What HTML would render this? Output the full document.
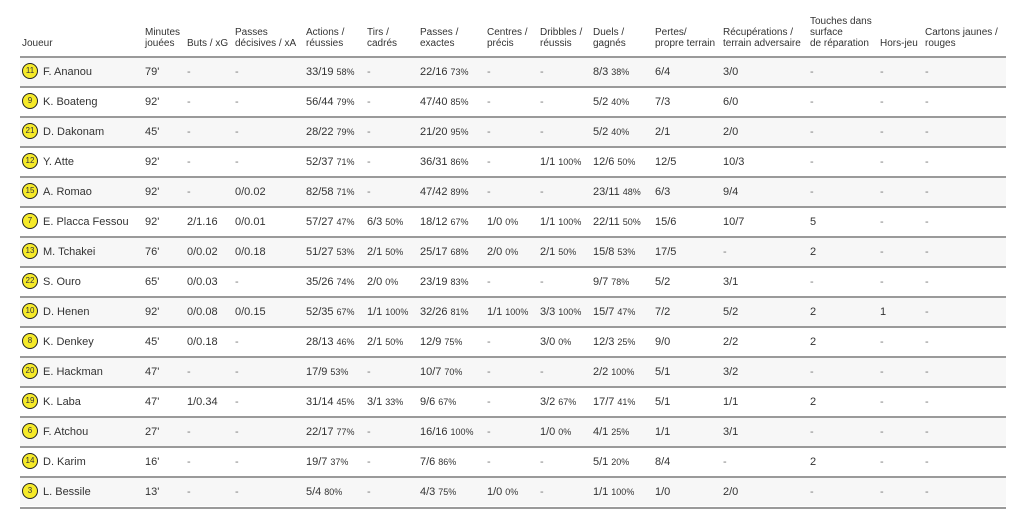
<!DOCTYPE html>
<html><head><meta charset="utf-8"><style>
body{margin:0;width:1024px;height:525px;background:#fff;font-family:"Liberation Sans",Arial,sans-serif;color:#333;position:relative;overflow:hidden}
.h{position:absolute;font-size:10px;line-height:11px;color:#333;white-space:nowrap}
.r{position:absolute;left:20px;width:986px;height:28px;border-top:2px solid #9a9a9a;font-size:11px}
.r.g{background:#f7f7f7}
.r span{position:absolute;top:8px;white-space:nowrap}
.r small{font-size:9px;margin-left:3px}
.d{color:#777}
.n{position:absolute;left:2px;top:6px;width:14px;height:14px;border:1px solid #222;border-radius:50%;background:#f5ea2a;font-size:8px;line-height:14px;text-align:center;top:5px}
.bot{position:absolute;left:20px;top:507px;width:986px;border-top:2px solid #9a9a9a}
</style></head><body>
<div class="h" style="left:22px;top:38px">Joueur</div>
<div class="h" style="left:145px;top:27px">Minutes<br>jouées</div>
<div class="h" style="left:187px;top:38px">Buts / xG</div>
<div class="h" style="left:235px;top:27px">Passes<br>décisives / xA</div>
<div class="h" style="left:306px;top:27px">Actions /<br>réussies</div>
<div class="h" style="left:367px;top:27px">Tirs /<br>cadrés</div>
<div class="h" style="left:420px;top:27px">Passes /<br>exactes</div>
<div class="h" style="left:487px;top:27px">Centres /<br>précis</div>
<div class="h" style="left:540px;top:27px">Dribbles /<br>réussis</div>
<div class="h" style="left:593px;top:27px">Duels /<br>gagnés</div>
<div class="h" style="left:655px;top:27px">Pertes/<br>propre terrain</div>
<div class="h" style="left:723px;top:27px">Récupérations /<br>terrain adversaire</div>
<div class="h" style="left:810px;top:16px">Touches dans<br>surface<br>de réparation</div>
<div class="h" style="left:880px;top:38px">Hors-jeu</div>
<div class="h" style="left:925px;top:27px">Cartons jaunes /<br>rouges</div>

<div class="r g" style="top:56px"><div class="n">11</div><span style="left:23px">F. Ananou</span><span style="left:125px">79'</span><span class="d" style="left:167px">-</span><span class="d" style="left:215px">-</span><span style="left:286px">33/19<small>58%</small></span><span class="d" style="left:347px">-</span><span style="left:400px">22/16<small>73%</small></span><span class="d" style="left:467px">-</span><span class="d" style="left:520px">-</span><span style="left:573px">8/3<small>38%</small></span><span style="left:635px">6/4</span><span style="left:703px">3/0</span><span class="d" style="left:790px">-</span><span class="d" style="left:860px">-</span><span class="d" style="left:905px">-</span></div>
<div class="r" style="top:86px"><div class="n">9</div><span style="left:23px">K. Boateng</span><span style="left:125px">92'</span><span class="d" style="left:167px">-</span><span class="d" style="left:215px">-</span><span style="left:286px">56/44<small>79%</small></span><span class="d" style="left:347px">-</span><span style="left:400px">47/40<small>85%</small></span><span class="d" style="left:467px">-</span><span class="d" style="left:520px">-</span><span style="left:573px">5/2<small>40%</small></span><span style="left:635px">7/3</span><span style="left:703px">6/0</span><span class="d" style="left:790px">-</span><span class="d" style="left:860px">-</span><span class="d" style="left:905px">-</span></div>
<div class="r g" style="top:116px"><div class="n">21</div><span style="left:23px">D. Dakonam</span><span style="left:125px">45'</span><span class="d" style="left:167px">-</span><span class="d" style="left:215px">-</span><span style="left:286px">28/22<small>79%</small></span><span class="d" style="left:347px">-</span><span style="left:400px">21/20<small>95%</small></span><span class="d" style="left:467px">-</span><span class="d" style="left:520px">-</span><span style="left:573px">5/2<small>40%</small></span><span style="left:635px">2/1</span><span style="left:703px">2/0</span><span class="d" style="left:790px">-</span><span class="d" style="left:860px">-</span><span class="d" style="left:905px">-</span></div>
<div class="r" style="top:146px"><div class="n">12</div><span style="left:23px">Y. Atte</span><span style="left:125px">92'</span><span class="d" style="left:167px">-</span><span class="d" style="left:215px">-</span><span style="left:286px">52/37<small>71%</small></span><span class="d" style="left:347px">-</span><span style="left:400px">36/31<small>86%</small></span><span class="d" style="left:467px">-</span><span style="left:520px">1/1<small>100%</small></span><span style="left:573px">12/6<small>50%</small></span><span style="left:635px">12/5</span><span style="left:703px">10/3</span><span class="d" style="left:790px">-</span><span class="d" style="left:860px">-</span><span class="d" style="left:905px">-</span></div>
<div class="r g" style="top:176px"><div class="n">15</div><span style="left:23px">A. Romao</span><span style="left:125px">92'</span><span class="d" style="left:167px">-</span><span style="left:215px">0/0.02</span><span style="left:286px">82/58<small>71%</small></span><span class="d" style="left:347px">-</span><span style="left:400px">47/42<small>89%</small></span><span class="d" style="left:467px">-</span><span class="d" style="left:520px">-</span><span style="left:573px">23/11<small>48%</small></span><span style="left:635px">6/3</span><span style="left:703px">9/4</span><span class="d" style="left:790px">-</span><span class="d" style="left:860px">-</span><span class="d" style="left:905px">-</span></div>
<div class="r" style="top:206px"><div class="n">7</div><span style="left:23px">E. Placca Fessou</span><span style="left:125px">92'</span><span style="left:167px">2/1.16</span><span style="left:215px">0/0.01</span><span style="left:286px">57/27<small>47%</small></span><span style="left:347px">6/3<small>50%</small></span><span style="left:400px">18/12<small>67%</small></span><span style="left:467px">1/0<small>0%</small></span><span style="left:520px">1/1<small>100%</small></span><span style="left:573px">22/11<small>50%</small></span><span style="left:635px">15/6</span><span style="left:703px">10/7</span><span style="left:790px">5</span><span class="d" style="left:860px">-</span><span class="d" style="left:905px">-</span></div>
<div class="r g" style="top:236px"><div class="n">13</div><span style="left:23px">M. Tchakei</span><span style="left:125px">76'</span><span style="left:167px">0/0.02</span><span style="left:215px">0/0.18</span><span style="left:286px">51/27<small>53%</small></span><span style="left:347px">2/1<small>50%</small></span><span style="left:400px">25/17<small>68%</small></span><span style="left:467px">2/0<small>0%</small></span><span style="left:520px">2/1<small>50%</small></span><span style="left:573px">15/8<small>53%</small></span><span style="left:635px">17/5</span><span class="d" style="left:703px">-</span><span style="left:790px">2</span><span class="d" style="left:860px">-</span><span class="d" style="left:905px">-</span></div>
<div class="r" style="top:266px"><div class="n">22</div><span style="left:23px">S. Ouro</span><span style="left:125px">65'</span><span style="left:167px">0/0.03</span><span class="d" style="left:215px">-</span><span style="left:286px">35/26<small>74%</small></span><span style="left:347px">2/0<small>0%</small></span><span style="left:400px">23/19<small>83%</small></span><span class="d" style="left:467px">-</span><span class="d" style="left:520px">-</span><span style="left:573px">9/7<small>78%</small></span><span style="left:635px">5/2</span><span style="left:703px">3/1</span><span class="d" style="left:790px">-</span><span class="d" style="left:860px">-</span><span class="d" style="left:905px">-</span></div>
<div class="r g" style="top:296px"><div class="n">10</div><span style="left:23px">D. Henen</span><span style="left:125px">92'</span><span style="left:167px">0/0.08</span><span style="left:215px">0/0.15</span><span style="left:286px">52/35<small>67%</small></span><span style="left:347px">1/1<small>100%</small></span><span style="left:400px">32/26<small>81%</small></span><span style="left:467px">1/1<small>100%</small></span><span style="left:520px">3/3<small>100%</small></span><span style="left:573px">15/7<small>47%</small></span><span style="left:635px">7/2</span><span style="left:703px">5/2</span><span style="left:790px">2</span><span style="left:860px">1</span><span class="d" style="left:905px">-</span></div>
<div class="r" style="top:326px"><div class="n">8</div><span style="left:23px">K. Denkey</span><span style="left:125px">45'</span><span style="left:167px">0/0.18</span><span class="d" style="left:215px">-</span><span style="left:286px">28/13<small>46%</small></span><span style="left:347px">2/1<small>50%</small></span><span style="left:400px">12/9<small>75%</small></span><span class="d" style="left:467px">-</span><span style="left:520px">3/0<small>0%</small></span><span style="left:573px">12/3<small>25%</small></span><span style="left:635px">9/0</span><span style="left:703px">2/2</span><span style="left:790px">2</span><span class="d" style="left:860px">-</span><span class="d" style="left:905px">-</span></div>
<div class="r g" style="top:356px"><div class="n">20</div><span style="left:23px">E. Hackman</span><span style="left:125px">47'</span><span class="d" style="left:167px">-</span><span class="d" style="left:215px">-</span><span style="left:286px">17/9<small>53%</small></span><span class="d" style="left:347px">-</span><span style="left:400px">10/7<small>70%</small></span><span class="d" style="left:467px">-</span><span class="d" style="left:520px">-</span><span style="left:573px">2/2<small>100%</small></span><span style="left:635px">5/1</span><span style="left:703px">3/2</span><span class="d" style="left:790px">-</span><span class="d" style="left:860px">-</span><span class="d" style="left:905px">-</span></div>
<div class="r" style="top:386px"><div class="n">19</div><span style="left:23px">K. Laba</span><span style="left:125px">47'</span><span style="left:167px">1/0.34</span><span class="d" style="left:215px">-</span><span style="left:286px">31/14<small>45%</small></span><span style="left:347px">3/1<small>33%</small></span><span style="left:400px">9/6<small>67%</small></span><span class="d" style="left:467px">-</span><span style="left:520px">3/2<small>67%</small></span><span style="left:573px">17/7<small>41%</small></span><span style="left:635px">5/1</span><span style="left:703px">1/1</span><span style="left:790px">2</span><span class="d" style="left:860px">-</span><span class="d" style="left:905px">-</span></div>
<div class="r g" style="top:416px"><div class="n">6</div><span style="left:23px">F. Atchou</span><span style="left:125px">27'</span><span class="d" style="left:167px">-</span><span class="d" style="left:215px">-</span><span style="left:286px">22/17<small>77%</small></span><span class="d" style="left:347px">-</span><span style="left:400px">16/16<small>100%</small></span><span class="d" style="left:467px">-</span><span style="left:520px">1/0<small>0%</small></span><span style="left:573px">4/1<small>25%</small></span><span style="left:635px">1/1</span><span style="left:703px">3/1</span><span class="d" style="left:790px">-</span><span class="d" style="left:860px">-</span><span class="d" style="left:905px">-</span></div>
<div class="r" style="top:446px"><div class="n">14</div><span style="left:23px">D. Karim</span><span style="left:125px">16'</span><span class="d" style="left:167px">-</span><span class="d" style="left:215px">-</span><span style="left:286px">19/7<small>37%</small></span><span class="d" style="left:347px">-</span><span style="left:400px">7/6<small>86%</small></span><span class="d" style="left:467px">-</span><span class="d" style="left:520px">-</span><span style="left:573px">5/1<small>20%</small></span><span style="left:635px">8/4</span><span class="d" style="left:703px">-</span><span style="left:790px">2</span><span class="d" style="left:860px">-</span><span class="d" style="left:905px">-</span></div>
<div class="r g" style="top:476px"><div class="n">3</div><span style="left:23px">L. Bessile</span><span style="left:125px">13'</span><span class="d" style="left:167px">-</span><span class="d" style="left:215px">-</span><span style="left:286px">5/4<small>80%</small></span><span class="d" style="left:347px">-</span><span style="left:400px">4/3<small>75%</small></span><span style="left:467px">1/0<small>0%</small></span><span class="d" style="left:520px">-</span><span style="left:573px">1/1<small>100%</small></span><span style="left:635px">1/0</span><span style="left:703px">2/0</span><span class="d" style="left:790px">-</span><span class="d" style="left:860px">-</span><span class="d" style="left:905px">-</span></div>
<div class="bot"></div>
</body></html>
